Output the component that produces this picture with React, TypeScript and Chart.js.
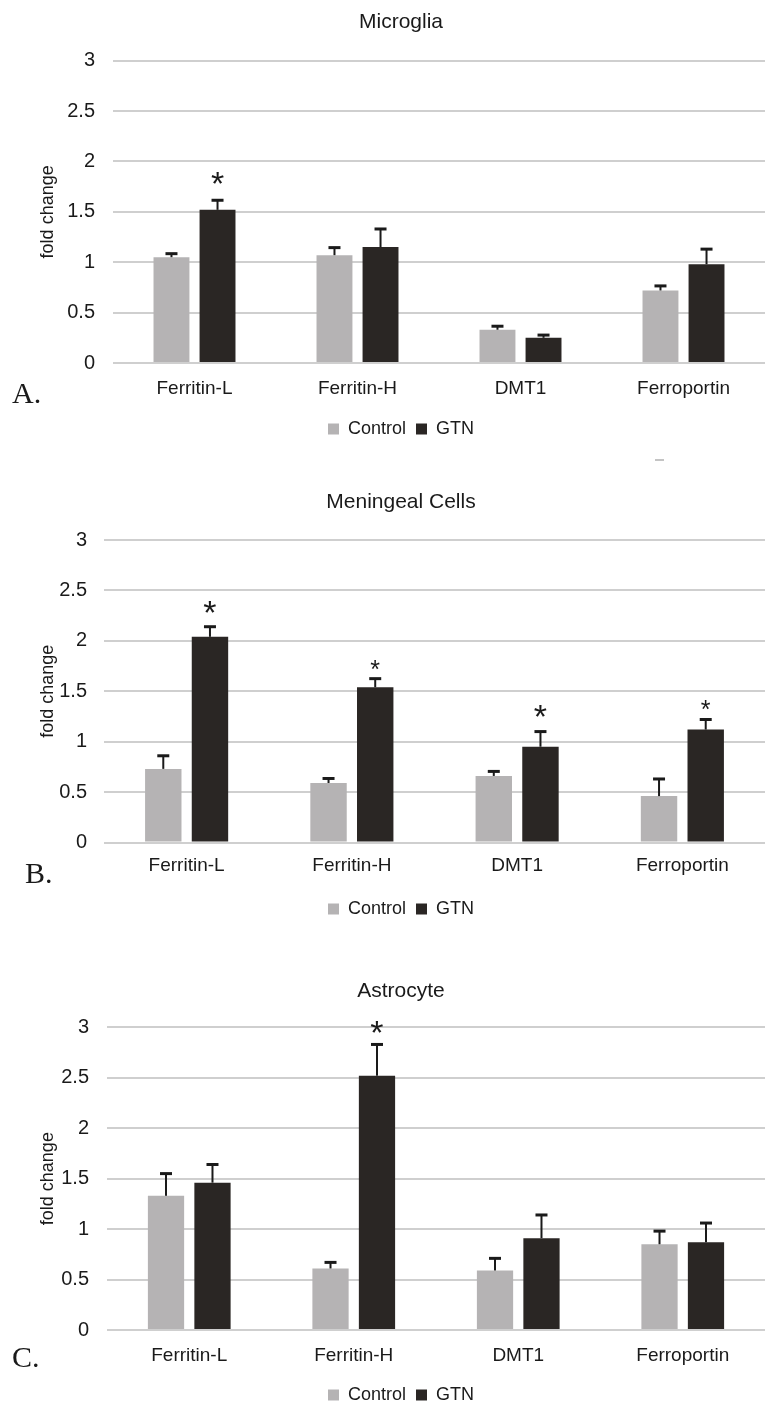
import React, { useEffect, useRef } from "react";
import { Chart, registerables } from "chart.js";

Chart.register(...registerables);

// ---------- data ----------
const categories = ["Ferritin-L", "Ferritin-H", "DMT1", "Ferroportin"];
const seriesNames = ["Control", "GTN"];
const yTickValues = [0, 0.5, 1, 1.5, 2, 2.5, 3];
const yTickLabels = ["0", "0.5", "1", "1.5", "2", "2.5", "3"];

const microgliaControl = [1.05, 1.07, 0.33, 0.72];
const microgliaControlErr = [0.035, 0.075, 0.035, 0.045];
const microgliaGTN = [1.52, 1.15, 0.25, 0.98];
const microgliaGTNErr = [0.095, 0.18, 0.027, 0.15];
const microgliaStars: (number | null)[] = [1.84, null, null, null];

const meningealControl = [0.73, 0.59, 0.66, 0.46];
const meningealControlErr = [0.13, 0.045, 0.045, 0.17];
const meningealGTN = [2.04, 1.54, 0.95, 1.12];
const meningealGTNErr = [0.1, 0.085, 0.15, 0.1];
const meningealStars: (number | null)[] = [2.34, 1.76, 1.3, 1.36];

const astrocyteControl = [1.33, 0.61, 0.59, 0.85];
const astrocyteControlErr = [0.22, 0.06, 0.12, 0.13];
const astrocyteGTN = [1.46, 2.52, 0.91, 0.87];
const astrocyteGTNErr = [0.18, 0.31, 0.23, 0.19];
const astrocyteStars: (number | null)[] = [null, 3.0, null, null];

// ---------- styles ----------
const FONT = "'Liberation Sans', Arial, Helvetica, sans-serif";
const TEXT = "#1a1a1a";
const CONTROL_COLOR = "#b5b3b4";
const GTN_COLOR = "#2a2624";
const GRID_COLOR = "#cfcfcf";

type PanelCfg = {
  title: string;
  letter: string;
  control: number[];
  controlErr: number[];
  gtn: number[];
  gtnErr: number[];
  stars: (number | null)[];
  starSizes: number[];
  top: number;
  height: number;
  plotLeft: number;
  titlePadTop: number;
  titlePadBottom: number;
  yTickPad: number;
  xHeight: number;
  xTickPad: number;
  bottomPad: number;
  letterLeft: number;
  letterTop: number;
};

const panels: PanelCfg[] = [
  {
    title: "Microglia",
    letter: "A.",
    control: microgliaControl,
    controlErr: microgliaControlErr,
    gtn: microgliaGTN,
    gtnErr: microgliaGTNErr,
    stars: microgliaStars,
    starSizes: [34, 34, 34, 34],
    top: 0,
    height: 470,
    plotLeft: 113,
    titlePadTop: 9.4,
    titlePadBottom: 26.1,
    yTickPad: 18,
    xHeight: 47,
    xTickPad: 6,
    bottomPad: 22,
    letterLeft: 12,
    letterTop: 378,
  },
  {
    title: "Meningeal Cells",
    letter: "B.",
    control: meningealControl,
    controlErr: meningealControlErr,
    gtn: meningealGTN,
    gtnErr: meningealGTNErr,
    stars: meningealStars,
    starSizes: [34, 25, 34, 25],
    top: 470,
    height: 480,
    plotLeft: 104,
    titlePadTop: 20.1,
    titlePadBottom: 24.7,
    yTickPad: 17,
    xHeight: 47.5,
    xTickPad: 4,
    bottomPad: 22,
    letterLeft: 25,
    letterTop: 858,
  },
  {
    title: "Astrocyte",
    letter: "C.",
    control: astrocyteControl,
    controlErr: astrocyteControlErr,
    gtn: astrocyteGTN,
    gtnErr: astrocyteGTNErr,
    stars: astrocyteStars,
    starSizes: [34, 34, 34, 34],
    top: 950,
    height: 474,
    plotLeft: 107,
    titlePadTop: 28.4,
    titlePadBottom: 23.7,
    yTickPad: 18,
    xHeight: 46,
    xTickPad: 6.5,
    bottomPad: 10,
    letterLeft: 12,
    letterTop: 1342,
  },
];

const PAD_LEFT = 37;
const PLOT_RIGHT = 765;
const WIDTH = 772;

function errorStarPlugin(errs: number[][], stars: (number | null)[], starSizes: number[]) {
  return {
    id: "errorStars",
    afterDatasetsDraw(chart: any) {
      const ctx = chart.ctx as CanvasRenderingContext2D;
      const yScale = chart.scales.y;
      ctx.save();
      chart.data.datasets.forEach((ds: any, di: number) => {
        const meta = chart.getDatasetMeta(di);
        meta.data.forEach((bar: any, i: number) => {
          const v = ds.data[i] as number;
          const yTop = yScale.getPixelForValue(v + errs[di][i]);
          const yBase = yScale.getPixelForValue(v);
          ctx.strokeStyle = TEXT;
          ctx.lineWidth = 2;
          ctx.beginPath();
          ctx.moveTo(bar.x, yBase);
          ctx.lineTo(bar.x, yTop);
          ctx.stroke();
          ctx.lineWidth = 3;
          ctx.beginPath();
          ctx.moveTo(bar.x - 6, yTop);
          ctx.lineTo(bar.x + 6, yTop);
          ctx.stroke();
        });
      });
      const gMeta = chart.getDatasetMeta(1);
      stars.forEach((s, i) => {
        if (s == null) return;
        const size = starSizes[i];
        ctx.font = `${size}px ${FONT}`;
        ctx.fillStyle = TEXT;
        ctx.textAlign = "center";
        ctx.textBaseline = "alphabetic";
        ctx.fillText("*", gMeta.data[i].x, yScale.getPixelForValue(s) + 0.5 * size);
      });
      ctx.restore();
    },
  };
}

function Panel({ cfg }: { cfg: PanelCfg }) {
  const ref = useRef<HTMLCanvasElement | null>(null);
  useEffect(() => {
    if (!ref.current) return;
    const chart = new Chart(ref.current, {
      type: "bar",
      data: {
        labels: categories,
        datasets: [
          {
            label: seriesNames[0],
            data: cfg.control,
            backgroundColor: CONTROL_COLOR,
            borderWidth: 0,
            categoryPercentage: 0.565,
            barPercentage: 0.78,
          },
          {
            label: seriesNames[1],
            data: cfg.gtn,
            backgroundColor: GTN_COLOR,
            borderWidth: 0,
            categoryPercentage: 0.565,
            barPercentage: 0.78,
          },
        ],
      },
      options: {
        responsive: false,
        animation: false,
        devicePixelRatio: 1,
        layout: {
          padding: { left: PAD_LEFT, right: WIDTH - PLOT_RIGHT, top: 0, bottom: cfg.bottomPad },
        },
        plugins: {
          title: {
            display: true,
            text: cfg.title,
            color: TEXT,
            font: { family: FONT, size: 21, weight: "normal" },
            padding: { top: cfg.titlePadTop, bottom: cfg.titlePadBottom },
          },
          legend: {
            display: true,
            position: "bottom",
            labels: {
              color: TEXT,
              boxWidth: 11,
              boxHeight: 11,
              padding: 10,
              font: { family: FONT, size: 18 },
            },
          },
          tooltip: { enabled: false },
        },
        scales: {
          x: {
            grid: { display: false },
            border: { display: false },
            ticks: {
              color: TEXT,
              padding: cfg.xTickPad,
              font: { family: FONT, size: 19 },
              maxRotation: 0,
            },
            afterFit: (s: any) => {
              s.height = cfg.xHeight;
            },
          },
          y: {
            min: 0,
            max: 3,
            border: { display: false },
            grid: { color: GRID_COLOR, lineWidth: 2, drawTicks: false },
            ticks: {
              color: TEXT,
              padding: cfg.yTickPad,
              font: { family: FONT, size: 20 },
              callback: (_v: any, i: number) => yTickLabels[i],
            },
            afterBuildTicks: (s: any) => {
              s.ticks = yTickValues.map((v) => ({ value: v }));
            },
            title: {
              display: true,
              text: "fold change",
              color: TEXT,
              font: { family: FONT, size: 18 },
              padding: { top: 0, bottom: 0 },
            },
            afterFit: (s: any) => {
              s.width = cfg.plotLeft - PAD_LEFT;
            },
          },
        },
      } as any,
      plugins: [errorStarPlugin([cfg.controlErr, cfg.gtnErr], cfg.stars, cfg.starSizes)],
    });
    return () => chart.destroy();
  }, [cfg]);

  return (
    <>
      <canvas
        ref={ref}
        width={WIDTH}
        height={cfg.height}
        style={{ position: "absolute", left: 0, top: cfg.top, width: WIDTH, height: cfg.height }}
      />
      <div
        style={{
          position: "absolute",
          left: cfg.letterLeft,
          top: cfg.letterTop,
          fontFamily: "'Liberation Serif', 'Times New Roman', serif",
          fontSize: 30,
          lineHeight: "30px",
          color: TEXT,
        }}
      >
        {cfg.letter}
      </div>
    </>
  );
}

export default function App() {
  return (
    <div
      style={{
        position: "absolute",
        left: 0,
        top: 0,
        width: WIDTH,
        height: 1424,
        background: "#ffffff",
        overflow: "hidden",
      }}
    >
      {panels.map((p) => (
        <Panel key={p.title} cfg={p} />
      ))}
      <div
        style={{
          position: "absolute",
          left: 655,
          top: 459,
          width: 9,
          height: 2,
          background: "#c4c4c4",
        }}
      />
    </div>
  );
}
